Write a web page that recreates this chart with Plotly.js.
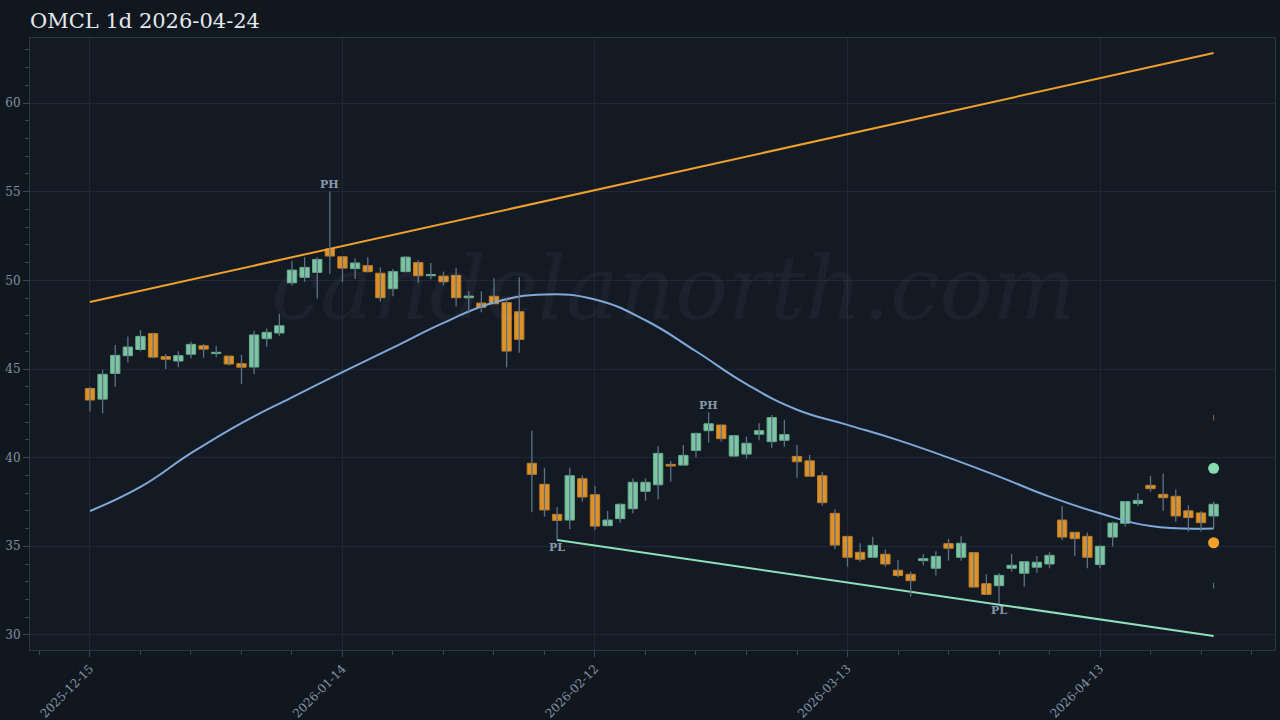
<!DOCTYPE html>
<html>
<head>
<meta charset="utf-8">
<script src="https://cdn.plot.ly/plotly-3.0.1.min.js"></script>
<style>
html,body{margin:0;padding:0;background:#10171f;}
#chart{width:1280px;height:720px;}
</style>
</head>
<body>
<div id="chart"></div>
<script>
// ---- data ----
const dates = [
 '2025-12-15','2025-12-16','2025-12-17','2025-12-18','2025-12-19','2025-12-22','2025-12-23','2025-12-24','2025-12-26','2025-12-29','2025-12-30','2025-12-31',
 '2026-01-02','2026-01-05','2026-01-06','2026-01-07','2026-01-08','2026-01-09','2026-01-12','2026-01-13','2026-01-14','2026-01-15','2026-01-16',
 '2026-01-20','2026-01-21','2026-01-22','2026-01-23','2026-01-26','2026-01-27','2026-01-28','2026-01-29','2026-01-30',
 '2026-02-02','2026-02-03','2026-02-04','2026-02-05','2026-02-06','2026-02-09','2026-02-10','2026-02-11','2026-02-12','2026-02-13',
 '2026-02-17','2026-02-18','2026-02-19','2026-02-20','2026-02-23','2026-02-24','2026-02-25','2026-02-26','2026-02-27',
 '2026-03-02','2026-03-03','2026-03-04','2026-03-05','2026-03-06','2026-03-09','2026-03-10','2026-03-11','2026-03-12','2026-03-13',
 '2026-03-16','2026-03-17','2026-03-18','2026-03-19','2026-03-20','2026-03-23','2026-03-24','2026-03-25','2026-03-26','2026-03-27',
 '2026-03-30','2026-03-31','2026-04-01','2026-04-02','2026-04-06','2026-04-07','2026-04-08','2026-04-09','2026-04-10',
 '2026-04-13','2026-04-14','2026-04-15','2026-04-16','2026-04-17','2026-04-20','2026-04-21','2026-04-22','2026-04-23','2026-04-24'
];
const open  = [43.9,43.3,44.75,45.75,46.1,47.0,45.7,45.45,45.83,46.31,45.87,45.73,45.3,45.11,46.71,47.03,49.86,50.17,50.45,51.77,
 51.33,50.66,50.83,50.4,49.53,50.49,51.0,50.26,50.24,50.28,49.02,48.72,49.1,48.74,48.23,39.68,38.5,36.8,36.48,38.81,
 37.91,36.16,36.56,37.12,38.1,38.47,39.62,39.58,40.41,41.52,41.84,40.09,40.2,41.32,40.9,40.98,40.07,39.82,38.98,36.86,
 35.56,34.66,34.38,34.55,33.65,33.42,34.19,33.76,35.15,34.38,34.64,32.89,32.78,33.76,33.48,33.82,34.0,36.48,35.79,35.56,
 33.97,35.52,36.3,37.41,38.44,37.93,37.82,37.0,36.88,36.71];
const high  = [44.0,44.95,46.35,46.84,47.2,47.05,45.85,46.0,46.54,46.41,46.3,45.75,45.8,47.16,47.29,48.1,51.1,51.3,51.3,55.0,
 51.35,51.24,51.3,50.73,50.64,51.37,51.14,50.98,50.49,50.69,49.4,49.38,50.13,49.02,50.17,41.52,39.43,37.21,39.43,39.0,
 38.4,37.0,37.43,38.83,38.83,40.65,39.81,40.71,41.41,42.56,41.86,41.26,41.19,41.94,42.4,42.12,40.71,40.15,39.21,37.09,
 35.58,35.17,35.54,34.81,34.21,33.57,34.57,34.72,35.41,35.56,34.66,33.42,33.48,34.57,34.15,34.45,34.66,37.27,35.8,35.77,
 35.06,36.39,37.56,37.99,38.96,39.11,38.21,37.31,36.97,37.52];
const low   = [42.6,42.5,44.0,45.36,46.0,45.6,45.0,45.1,45.6,45.64,45.66,45.2,44.15,44.72,46.26,46.88,49.7,49.92,48.98,50.36,
 49.9,50.07,50.45,48.8,49.11,50.45,49.87,50.06,49.73,48.52,48.14,48.2,48.68,45.09,45.92,36.92,36.67,35.35,35.98,37.52,
 35.92,36.16,36.33,36.86,37.57,37.65,38.64,39.58,40.02,40.85,40.9,40.05,39.94,40.98,40.56,40.62,38.87,38.93,37.29,34.83,
 33.85,34.13,34.36,33.85,33.25,32.16,33.93,33.35,34.19,34.19,32.68,32.27,31.75,33.57,32.72,33.51,33.76,35.35,34.47,33.76,
 33.76,34.98,36.11,37.27,38.08,37.0,36.39,35.83,35.83,36.02];
const close = [43.25,44.7,45.77,46.24,46.84,45.67,45.55,45.75,46.39,46.12,45.94,45.28,45.1,46.92,47.07,47.44,50.58,50.73,51.18,51.37,
 50.69,50.98,50.49,49.02,50.49,51.31,50.26,50.33,49.92,49.02,49.11,48.48,48.68,46.01,46.67,39.06,37.05,36.46,38.98,37.78,
 36.14,36.48,37.37,38.61,38.61,40.24,39.53,40.13,41.37,41.91,41.07,41.24,40.81,41.52,42.26,41.3,39.77,38.95,37.46,35.07,
 34.38,34.27,35.05,34.0,33.35,33.06,34.3,34.43,34.89,35.17,32.7,32.29,33.36,33.93,34.13,34.1,34.49,35.52,35.43,34.38,
 35.0,36.31,37.52,37.59,38.25,37.74,36.71,36.62,36.33,37.37];

// smoothed average (every 4 bars)
const maIdx = [0,4,8,12,16,20,24,28,32,36,40,44,48,52,56,60,64,68,72,76,80,84,89];
const maVal = [36.99,38.35,40.25,41.95,43.4,44.82,46.2,47.6,48.75,49.2,48.92,47.75,46.0,44.15,42.7,41.85,40.99,40.0,38.93,37.8,36.86,36.14,36.01];

// trendlines
const upperIdx = [0,89];   const upperVal = [48.78,62.82];
const lowerIdx = [37,89];  const lowerVal = [35.35,29.94];

// pivots
const pivotIdx  = [19,49,37,72];
const pivotType = ['PH','PH','PL','PL'];

// last-bar targets
const targetUp = 39.4, targetDown = 35.2;
const extUp = 42.25, extDown = 32.78;

const tickDates = ['2025-12-15','2026-01-14','2026-02-12','2026-03-13','2026-04-13'];

// ---- build ----
const n = dates.length;
const idx = dates.map((d,i)=>i);
const GREEN = '#82cfa9', ORANGE = '#e8992a';

const wx = [], wy = [];
for (let i=0;i<n;i++){ wx.push(i,i,null); wy.push(low[i],high[i],null); }

const bodyBase = idx.map(i=>Math.min(open[i],close[i]));
const bodyH = idx.map(i=>Math.max(Math.abs(close[i]-open[i]),0.06));
const bodyCol = idx.map(i=> close[i]>=open[i] ? GREEN : ORANGE);
const bodyLine = idx.map(i=> close[i]>=open[i] ? '#6ab690' : '#c98420');

const last = n-1;
const traces = [
  {type:'scatter', mode:'lines', x:upperIdx, y:upperVal, line:{color:'#f0a02c', width:2}, hoverinfo:'skip'},
  {type:'scatter', mode:'lines', x:lowerIdx, y:lowerVal, line:{color:'#8fe0b8', width:2}, hoverinfo:'skip'},
  {type:'scatter', mode:'lines', x:maIdx, y:maVal, line:{color:'#80a8d6', width:2, shape:'spline', smoothing:1.3}, hoverinfo:'skip'},
  {type:'scatter', mode:'lines', x:wx, y:wy, line:{color:'#5e7186', width:1.3}, hoverinfo:'skip'},
  {type:'bar', x:idx, base:bodyBase, y:bodyH, width:0.74,
   marker:{color:bodyCol, line:{color:bodyLine, width:1}}, opacity:0.95, hoverinfo:'skip'},
  {type:'scatter', mode:'markers', x:[last], y:[targetUp], marker:{color:'#86dcae', size:11}, hoverinfo:'skip'},
  {type:'scatter', mode:'markers', x:[last], y:[targetDown], marker:{color:'#f5a028', size:11}, hoverinfo:'skip'},
  {type:'scatter', mode:'markers', x:[last,last], y:[extUp,extDown],
   marker:{symbol:'line-ns', size:4, line:{color:['#8a6a3a','#4f8a78'], width:1}}, hoverinfo:'skip'}
];

const annotations = pivotIdx.map((p,k)=>{
  const isH = pivotType[k]==='PH';
  return {x:p, y: isH ? high[p] : low[p], xref:'x', yref:'y', text:'<b>'+pivotType[k]+'</b>',
    showarrow:false, yanchor:'middle', yshift: isH ? 7 : -7,
    font:{family:'DejaVu Serif', size:11, color:'#8797ab'}};
});
annotations.unshift({text:'candelanorth.com', xref:'paper', yref:'paper', x:0.517, y:0.59,
  xanchor:'center', yanchor:'middle', showarrow:false,
  font:{family:'DejaVu Serif', size:88, style:'italic', color:'rgba(190,205,220,0.05)'}});

const tickVals = tickDates.map(d=>dates.indexOf(d));

const layout = {
  width:1280, height:720,
  paper_bgcolor:'#10171f', plot_bgcolor:'#131a24',
  margin:{l:30, r:5, t:38, b:70},
  showlegend:false,
  barmode:'overlay',
  title:{text:'OMCL 1d 2026-04-24', x:30/1280, xanchor:'left', xref:'container',
         y:1-21/720, yanchor:'middle', yref:'container',
         font:{family:'DejaVu Serif', size:21, color:'#e4e9ef'}},
  xaxis:{type:'linear', range:[-4.75,93.86], tickmode:'array', tickvals:tickVals, ticktext:tickDates,
    tickangle:-45, ticks:'outside', ticklen:6, tickcolor:'#3a4756',
    showgrid:true, gridcolor:'#1d2834', gridwidth:1, zeroline:false,
    showline:true, linecolor:'#2a3644', mirror:true,
    tickfont:{family:'DejaVu Serif', size:12, color:'#8292a6'},
    minor:{tickmode:'linear', tick0:0, dtick:4, ticks:'outside', ticklen:4, tickcolor:'#3a4756', showgrid:false}},
  yaxis:{range:[29.15,63.67], dtick:5, tick0:0, ticks:'outside', ticklen:6, tickcolor:'#3a4756',
    showgrid:true, gridcolor:'#1d2834', gridwidth:1, zeroline:false,
    showline:true, linecolor:'#2a3644', mirror:true,
    tickfont:{family:'DejaVu Serif', size:12, color:'#8292a6'},
    minor:{tickmode:'linear', tick0:0, dtick:1, ticks:'outside', ticklen:4, tickcolor:'#3a4756', showgrid:false}},
  annotations:annotations
};

Plotly.newPlot('chart', traces, layout, {staticPlot:true, displayModeBar:false});
</script>
</body>
</html>
